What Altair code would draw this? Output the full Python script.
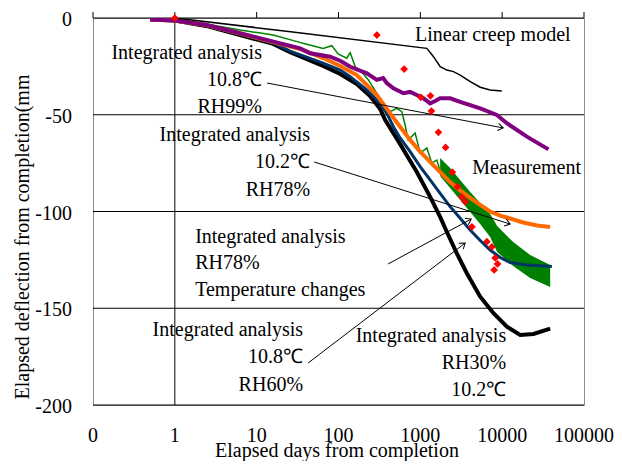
import math
import altair as alt
import pandas as pd

# ---------------- data (x: elapsed days, y: deflection mm) ----------------
creep_x = [1, 26, 1200, 1450, 1750, 2110, 2540, 3070, 4070, 5390, 7130, 9900]
creep_y = [0, -7.1, -15.7, -20.0, -25.2, -26.9, -27.7, -29.5, -32.9, -35.8, -37.2, -37.7]

purple_x = [0.5, 1, 2.45, 6.27, 16, 34, 45, 78.9, 105, 139, 222, 294, 351, 389, 469,
            621, 750, 906, 1092, 1318, 1517, 1746, 2313, 3067, 5390, 8610, 11420, 20050, 36800]
purple_y = [-0.8, -1.3, -3.6, -7.9, -12.2, -15.7, -18.2, -20.0, -22.1, -25.2, -28.6, -32.0, -31.0, -33.6, -36.3,
            -38.9, -38.2, -39.8, -41.5, -44.1, -42.9, -41.5, -41.5, -43.3, -46.7, -50.1, -54.4, -61.3, -67.9]

orange_x = [0.5, 1, 2.4, 6.27, 15.9, 34, 64.8, 105, 167, 202, 294, 428, 566, 750, 995, 1318,
            1746, 2313, 3067, 4066, 5390, 7130, 9460, 12530, 18070, 26790, 38600]
orange_y = [-0.8, -1.3, -3.6, -8.0, -12.4, -16.0, -20.7, -24.8, -29.5, -32.9, -39.8, -49.3, -56.2, -63.0, -69.1, -74.4,
            -79.6, -84.8, -89.1, -93.0, -96.6, -100.0, -102.1, -103.6, -105.7, -107.2, -108.0]

blue_x = [0.5, 1, 2.4, 6.27, 15.9, 25.6, 64.8, 105, 139, 222, 294, 389, 469, 566, 750, 995,
          1318, 1746, 2313, 3067, 4066, 5390, 7130, 9460, 12530, 20050, 40500]
blue_y = [-0.8, -1.3, -3.9, -8.3, -12.9, -17.1, -23.3, -26.9, -30.3, -37.2, -42.4, -49.3, -56.2, -62.0, -69.1, -76.8,
          -83.7, -90.6, -97.5, -103.5, -109.6, -115.0, -119.9, -123.8, -126.4, -127.6, -128.4]

black_x = [0.5, 1, 2.4, 6.27, 15.9, 25.6, 64.8, 105, 167, 243, 323, 372, 527, 906, 1318,
           1746, 2110, 2790, 3700, 5390, 7830, 11420, 16600, 24150, 38600]
black_y = [-0.8, -1.3, -4.1, -8.8, -13.4, -17.6, -24.8, -28.9, -34.1, -40.3, -47.0, -52.7, -63.0, -79.6, -92.4,
           -102.8, -110.6, -121.6, -131.9, -144.0, -152.6, -159.5, -163.8, -163.3, -160.5]

green_x = [0.5, 1, 2.4, 6.27, 15.9, 31.2, 36.9, 64.8, 82.8, 98.9, 126, 139, 160, 184, 232,
           294, 354, 428, 516, 594, 652, 710, 863, 995, 1200, 1383, 1592, 1832, 2110, 2313]
green_y = [-0.8, -1.0, -3.1, -6.2, -8.8, -12.2, -13.1, -15.7, -14.3, -18.6, -20.8, -17.9, -25.2, -26.9, -32.0,
           -38.9, -45.8, -48.4, -46.7, -48.4, -55.3, -63.0, -59.4, -69.8, -67.2, -74.9, -73.4, -82.0, -78.6, -87.2]

# dense temperature-oscillation band of the green series (upper / lower envelope)
band_x = [1746, 2313, 3067, 4066, 5390, 7130, 8690, 13630, 21980, 38600]
band_hi = [-72.4, -77.5, -83.7, -89.9, -95.6, -101.3, -107.5, -115.8, -122.5, -127.6]
band_lo = [-81.7, -87.9, -94.1, -100.3, -106.5, -113.2, -120.9, -128.2, -134.4, -139.0]

meas_x = [1, 294, 634, 1014, 1328, 1366, 1664, 2036, 2465, 2841, 3215, 3530, 4266, 6505, 7487, 8210, 8770, 7980]
meas_y = [0, -8.8, -26.4, -41.0, -40.2, -48.1, -59.1, -66.9, -79.7, -87.2, -92.4, -94.9, -107.9, -115.6, -118.3, -124.0, -127.1, -130.2]

x_ticks = [0.1, 1, 10, 100, 1000, 10000, 100000]
x_labels = ["0", "1", "10", "100", "1000", "10000", "100000"]
y_ticks = [-200, -150, -100, -50, 0]
y_labels = ["-200", "-150", "-100", "-50", "0"]

x_title = "Elapsed days from completion"
y_title = "Elapsed deflection from completion(mm"

# annotations: (x, y, text, align)
notes = [
    (11.6, -18.1, "Integrated analysis", "right"),
    (11.6, -32.0, "10.8℃", "right"),
    (11.6, -46.0, "RH99%", "right"),
    (45, -60.5, "Integrated analysis", "right"),
    (45, -74.4, "10.2℃", "right"),
    (45, -88.9, "RH78%", "right"),
    (1.77, -113.2, "Integrated analysis", "left"),
    (1.77, -126.6, "RH78%", "left"),
    (1.77, -140.6, "Temperature changes", "left"),
    (36.9, -161.2, "Integrated analysis", "right"),
    (36.9, -175.2, "10.8℃", "right"),
    (36.9, -189.7, "RH60%", "right"),
    (11190, -164.3, "Integrated analysis", "right"),
    (11190, -178.3, "RH30%", "right"),
    (11190, -192.2, "10.2℃", "right"),
    (863, -8.8, "Linear creep model", "left"),
    (4300, -77.5, "Measurement", "left"),
]

# arrows: (x_start, y_start, x_end, y_end)
arrows = [
    (13.4, -33.6, 10280, -56.8),
    (50.4, -74.4, 12530, -106.5),
    (404, -127.1, 4180, -103.9),
    (42.5, -178.3, 3530, -116.3),
]

# ---------------- layout ----------------
W, H = 491, 387
FONT = "Liberation Serif"
FS = 20
XDOM = [0.1, 100000]
YDOM = [-200, 0]

xscale = alt.Scale(type="log", domain=XDOM)
yscale = alt.Scale(domain=YDOM)


def series_df(xs, ys):
    return pd.DataFrame({"x": xs, "y": ys})


def XE():
    return alt.X("x:Q", scale=xscale, axis=None)


def YE(field="y"):
    return alt.Y(f"{field}:Q", scale=yscale, axis=None)


def line_layer(xs, ys, color, width):
    return alt.Chart(series_df(xs, ys)).mark_line(color=color, strokeWidth=width, clip=True).encode(
        x=XE(), y=YE()
    )


# horizontal gridlines (the one at 0 is the category axis line)
grid = alt.Chart(pd.DataFrame({"y": y_ticks})).mark_rule(color="#000000", strokeWidth=1).encode(y=YE())

# vertical value-axis line at x = 1
vaxis = alt.Chart(pd.DataFrame({"x": [1, 1], "y": [YDOM[0], YDOM[1]]})).mark_line(
    color="#000000", strokeWidth=1).encode(x=XE(), y=YE())

# small tick marks above the top (y = 0) axis line at each decade
top_ticks = alt.Chart(pd.DataFrame({"x": x_ticks})).mark_rule(color="#000000", strokeWidth=1).encode(
    x=XE(), y=alt.value(-6), y2=alt.value(0)
)

# axis labels and titles
xlab = alt.Chart(pd.DataFrame({"x": x_ticks, "t": x_labels})).mark_text(
    align="center", baseline="middle", font=FONT, fontSize=FS, color="#000000").encode(
    x=XE(), y=alt.value(H + 31), text="t:N")
ylab = alt.Chart(pd.DataFrame({"y": y_ticks, "t": y_labels})).mark_text(
    align="right", baseline="middle", font=FONT, fontSize=FS, color="#000000", dy=2).encode(
    y=YE(), x=alt.value(-21), text="t:N")
xtit = alt.Chart(pd.DataFrame({"t": [x_title]})).mark_text(
    align="center", baseline="middle", font=FONT, fontSize=FS, color="#000000").encode(
    x=alt.value(244), y=alt.value(H + 46), text="t:N")
ytit = alt.Chart(pd.DataFrame({"t": [y_title]})).mark_text(
    align="center", baseline="middle", font=FONT, fontSize=FS, color="#000000", angle=270).encode(
    x=alt.value(-70), y=alt.value(219), text="t:N")

band = alt.Chart(pd.DataFrame({"x": band_x, "hi": band_hi, "lo": band_lo})).mark_area(
    color="#008000", opacity=1).encode(x=XE(), y=YE("hi"), y2="lo:Q")

green = line_layer(green_x, green_y, "#008000", 1.5)
blackl = line_layer(black_x, black_y, "#000000", 4)
blue = line_layer(blue_x, blue_y, "#003366", 3)
orange = line_layer(orange_x, orange_y, "#FF6A00", 4)
purple = line_layer(purple_x, purple_y, "#800080", 4)
creep = line_layer(creep_x, creep_y, "#000000", 1.5)

# arrows
arow = []
head = []
for i, (x1, y1, x2, y2) in enumerate(arrows):
    arow.append({"id": i, "x": x1, "y": y1})
    arow.append({"id": i, "x": x2, "y": y2})
    dx = (math.log10(x2) - math.log10(x1)) / (math.log10(XDOM[1]) - math.log10(XDOM[0])) * W
    dy = -(y2 - y1) / (YDOM[1] - YDOM[0]) * H
    ang = math.degrees(math.atan2(dy, dx)) % 360
    head.append({"x": x2, "y": y2, "ang": ang})

arrow_lines = alt.Chart(pd.DataFrame(arow)).mark_line(color="#000000", strokeWidth=1).encode(
    x=XE(), y=YE(), detail="id:N")
arrow_heads = alt.Chart(pd.DataFrame(head)).mark_point(
    shape="M -1 -0.7 L 0 0 L -1 0.7", filled=False, stroke="#000000", strokeWidth=1, size=110, opacity=1
).encode(x=XE(), y=YE(), angle=alt.Angle("ang:Q", scale=None))

meas = alt.Chart(series_df(meas_x, meas_y)).mark_point(
    shape="diamond", filled=True, color="#FF0000", size=60, opacity=1).encode(x=XE(), y=YE())

ndf = pd.DataFrame(notes, columns=["x", "y", "text", "align"])
text_layers = []
for al in ["left", "right"]:
    text_layers.append(
        alt.Chart(ndf[ndf["align"] == al]).mark_text(
            align=al, baseline="middle", font=FONT, fontSize=FS, color="#000000").encode(
            x=XE(), y=YE(), text="text:N")
    )

chart = alt.layer(
    grid, vaxis, top_ticks, xlab, ylab, xtit, ytit,
    band, green, blackl, blue, orange, purple, creep,
    arrow_lines, arrow_heads, meas, *text_layers
).properties(
    width=W, height=H,
    autosize=alt.AutoSizeParams(type="none"),
    padding={"left": 85, "top": 10, "right": 30, "bottom": 56},
).configure_view(
    stroke="#8c8c8c", strokeWidth=1
)

chart.save("out.html", embed_options={"renderer": "svg", "actions": False})
